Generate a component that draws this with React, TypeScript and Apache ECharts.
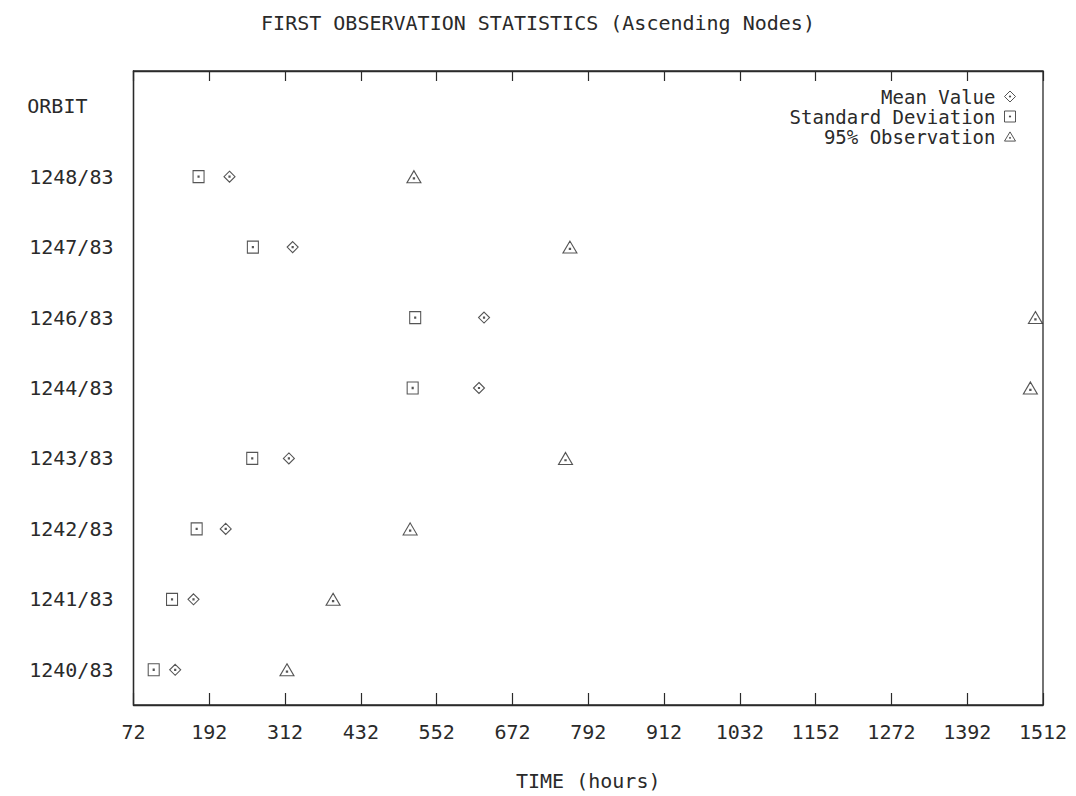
import React, { useEffect, useRef } from "react";
import * as echarts from "echarts";

const orbits = ["1240/83", "1241/83", "1242/83", "1243/83", "1244/83", "1246/83", "1247/83", "1248/83"];
const rowHeader = "ORBIT";
const meanValue = [138, 167, 218, 318, 619, 627, 324, 224];
const stdDeviation = [104, 133, 172, 260, 514, 518, 261, 175];
const obs95 = [315, 388, 510, 756, 1492, 1500, 763, 516];
const xMin = 72;
const xMax = 1512;
const xStep = 120;

const FONT = "'DejaVu Sans Mono', monospace";
const INK = "#2a2a2a";
const FS = 20;

const squareSym = "path://M0,0 L10,0 L10,10 L0,10 Z M4.5,4.5 L5.5,4.5 L5.5,5.5 L4.5,5.5 Z";
const diamondSym = "path://M5,0 L10,5 L5,10 L0,5 Z M4.5,4.5 L5.5,4.5 L5.5,5.5 L4.5,5.5 Z";
const triangleSym = "path://M6,0 L12,10 L0,10 Z M5.5,6 L6.5,6 L6.5,7 L5.5,7 Z";

export default function App() {
  const ref = useRef<HTMLDivElement>(null);
  useEffect(() => {
    document.body.style.margin = "0";
    const chart = echarts.init(ref.current!, null, { renderer: "svg" });
    const cats = [...orbits, rowHeader];
    const itemStyle = { color: "rgba(0,0,0,0)", borderColor: INK, borderWidth: 1.1 };
    const toPts = (arr: number[]) => arr.map((v, i) => [v, orbits[i]]);
    const legendBase = {
      orient: "horizontal",
      align: "right",
      right: 60,
      padding: 0,
      itemWidth: 11,
      itemHeight: 11,
      itemGap: 0,
      selectedMode: false,
      itemStyle: { color: "rgba(0,0,0,0)", borderColor: INK, borderWidth: 1 },
      textStyle: { fontFamily: FONT, fontSize: 19, lineHeight: 18, color: INK, padding: [0, 4, 0, 0] },
    };
    chart.setOption({
      animation: false,
      backgroundColor: "#fff",
      title: {
        text: "FIRST OBSERVATION STATISTICS (Ascending Nodes)",
        left: "center",
        top: 8,
        textStyle: { fontFamily: FONT, fontSize: FS, fontWeight: "normal", color: INK },
      },
      legend: [
        { ...legendBase, top: 87, data: [{ name: "Mean Value", icon: diamondSym }] },
        { ...legendBase, top: 107, data: [{ name: "Standard Deviation", icon: squareSym }] },
        { ...legendBase, top: 127, data: [{ name: "95% Observation", icon: triangleSym }] },
      ],
      grid: {
        left: 133.5,
        right: 1076 - 1043,
        top: 71,
        bottom: 796 - 708,
        show: true,
        borderColor: INK,
        borderWidth: 1.3,
      },
      xAxis: [
        {
          type: "value",
          position: "bottom",
          min: xMin,
          max: xMax,
          interval: xStep,
          name: "TIME (hours)",
          nameLocation: "middle",
          nameGap: 66,
          nameTextStyle: { fontFamily: FONT, fontSize: FS, color: INK },
          axisLine: { show: true, lineStyle: { color: INK, width: 1.3 } },
          axisTick: { show: true, inside: true, length: 12, lineStyle: { color: INK, width: 1.2 } },
          axisLabel: { fontFamily: FONT, fontSize: FS, color: INK, margin: 17, formatter: (v: number) => String(v) },
          splitLine: { show: false },
        },
        {
          type: "value",
          position: "top",
          min: xMin,
          max: xMax,
          interval: xStep,
          axisLine: { show: true, lineStyle: { color: INK, width: 1.3 } },
          axisTick: { show: true, inside: true, length: 10, lineStyle: { color: INK, width: 1.2 } },
          axisLabel: { show: false },
          splitLine: { show: false },
        },
      ],
      yAxis: {
        type: "category",
        data: cats,
        boundaryGap: true,
        axisLine: { show: true, lineStyle: { color: INK, width: 1.3 } },
        axisTick: { show: false },
        axisLabel: {
          fontFamily: FONT,
          fontSize: FS,
          color: INK,
          margin: 20,
          formatter: (v: string) => (v === rowHeader ? "{o|" + v + "}" : v),
          rich: { o: { fontFamily: FONT, fontSize: FS, color: INK, padding: [0, 26, 0, 0] } },
        },
        splitLine: { show: false },
      },
      series: [
        {
          name: "Mean Value",
          type: "scatter",
          symbol: diamondSym,
          symbolSize: [11, 11],
          itemStyle,
          data: toPts(meanValue),
        },
        {
          name: "Standard Deviation",
          type: "scatter",
          symbol: squareSym,
          symbolSize: [11, 12],
          itemStyle,
          data: toPts(stdDeviation),
        },
        {
          name: "95% Observation",
          type: "scatter",
          symbol: triangleSym,
          symbolSize: [14, 12],
          itemStyle,
          data: toPts(obs95),
        },
      ],
    });
    return () => chart.dispose();
  }, []);
  return <div ref={ref} style={{ width: 1076, height: 796 }} />;
}
